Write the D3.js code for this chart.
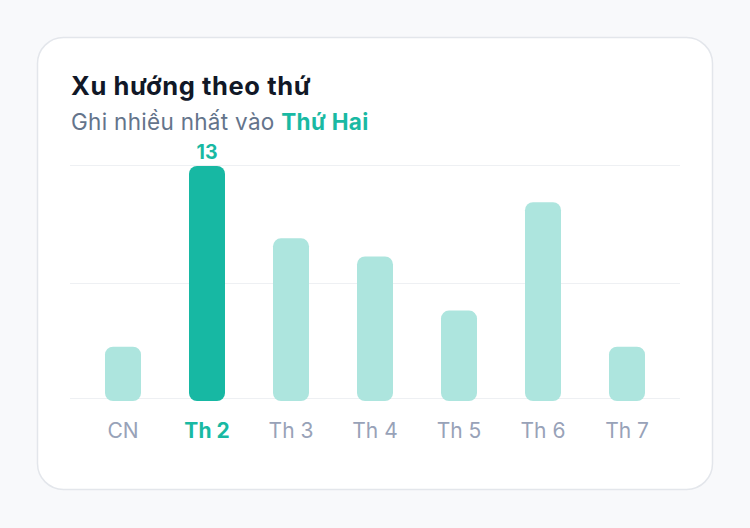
<!DOCTYPE html>
<html>
<head>
  <meta charset="utf-8">
  <title>Xu hướng theo thứ</title>
  <script src="https://d3js.org/d3.v7.min.js"></script>
  <style>
    html, body { margin: 0; padding: 0; background: #f8f9fb; }
    body { width: 750px; height: 528px; font-family: Inter, "Noto Sans", sans-serif; }
  </style>
</head>
<body>
<svg class="chart"></svg>
<script>

// Data
const days = ["CN", "Th 2", "Th 3", "Th 4", "Th 5", "Th 6", "Th 7"];
const counts = [3, 13, 9, 8, 5, 11, 3];
const topDay = "Th 2";
const topDayName = "Thứ Hai";

const W = 750, H = 528;

const svg = d3.select(".chart")
  .attr("width", W)
  .attr("height", H);

// Card
svg.append("rect")
  .attr("x", 37.5).attr("y", 37.5)
  .attr("width", 675).attr("height", 452)
  .attr("rx", 26)
  .attr("fill", "#ffffff")
  .attr("stroke", "#e3e6eb")
  .attr("stroke-width", 1.5);

// Title + subtitle
svg.append("text")
  .attr("x", 71).attr("y", 95)
  .attr("font-size", 25.5)
  .attr("font-weight", 700)
  .attr("letter-spacing", 0.6)
  .attr("fill", "#111827")
  .text("Xu hướng theo thứ");

const sub = svg.append("text")
  .attr("x", 71).attr("y", 130)
  .attr("font-size", 22.5)
  .attr("letter-spacing", 0.3)
  .attr("fill", "#64748b");
sub.append("tspan").text("Ghi nhiều nhất vào ");
sub.append("tspan")
  .attr("font-weight", 700)
  .attr("fill", "#19b9a3")
  .text(topDayName);

// Scales
const x = d3.scaleBand()
  .domain(days)
  .range([81, 669]);

const barW = 36;

const y = d3.scaleLinear()
  .domain([0, d3.max(counts)])
  .range([401, 166]);

// Grid lines
const grid = [0, d3.max(counts) / 2, d3.max(counts)];
svg.append("g")
  .selectAll("line")
  .data(grid)
  .join("line")
    .attr("x1", 70).attr("x2", 680)
    .attr("y1", d => Math.round(y(d)) - (d === 0 ? 2.5 : 0.5))
    .attr("y2", d => Math.round(y(d)) - (d === 0 ? 2.5 : 0.5))
    .attr("stroke", "#eef0f3")
    .attr("stroke-width", 1);

// Bars
const data = days.map((d, i) => ({ day: d, value: counts[i] }));

svg.append("g")
  .selectAll("rect")
  .data(data)
  .join("rect")
    .attr("x", d => x(d.day) + x.bandwidth() / 2 - barW / 2)
    .attr("y", d => y(d.value))
    .attr("width", barW)
    .attr("height", d => y(0) - y(d.value))
    .attr("rx", 8)
    .attr("fill", d => d.day === topDay ? "#17b8a3" : "#ade5de");

// Value label over the top bar
svg.append("g")
  .selectAll("text")
  .data(data.filter(d => d.day === topDay))
  .join("text")
    .attr("x", d => x(d.day) + x.bandwidth() / 2)
    .attr("y", d => y(d.value) - 7.5)
    .attr("text-anchor", "middle")
    .attr("font-size", 19.5)
    .attr("font-weight", 700)
    .attr("fill", "#19b9a3")
    .text(d => d.value);

// X axis labels
const xAxis = svg.append("g")
  .attr("transform", `translate(0, 437.5)`)
  .call(d3.axisBottom(x).tickSize(0).tickPadding(0));
xAxis.select(".domain").remove();
xAxis.selectAll("text")
  .attr("dy", 0)
  .attr("font-family", "Inter, 'Noto Sans', sans-serif")
  .attr("font-size", 21)
  .attr("font-weight", d => d === topDay ? 700 : 400)
  .attr("fill", d => d === topDay ? "#19b9a3" : "#98a2b8");

</script>
</body>
</html>
